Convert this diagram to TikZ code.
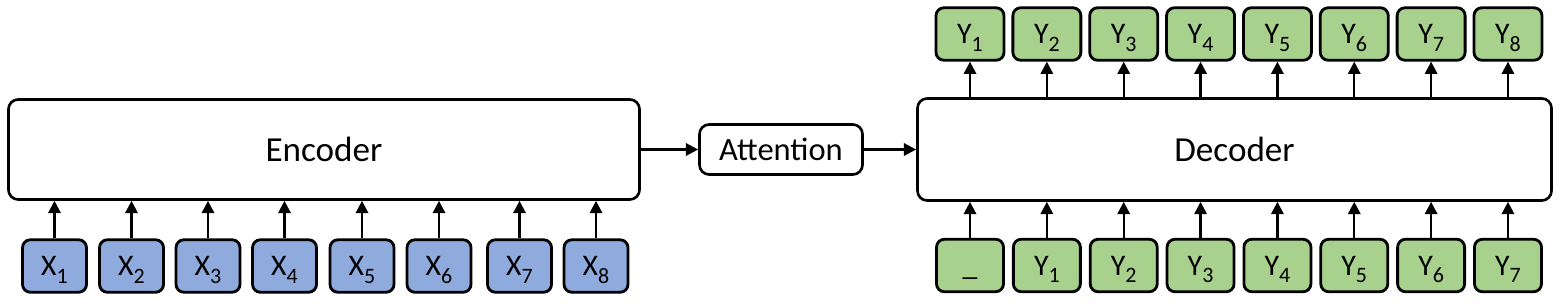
\documentclass[tikz,border=0pt]{standalone}
\usepackage{fontspec}
\setmainfont{Carlito}
\usetikzlibrary{arrows.meta,positioning}
\definecolor{inBlue}  {HTML}{8FAADC}
\definecolor{outGreen}{HTML}{A9D18E}
\newcommand{\lsub}[1]{\raisebox{-4.2pt}{\fontsize{12.5}{14}\selectfont #1}}

\begin{document}
\begin{tikzpicture}[
      blk/.style={draw,line width=1.5pt,rounded corners=5.5pt,fill=white,
                  font=\fontsize{20}{23}\selectfont},
      tok/.style={draw,line width=1.6pt,rounded corners=4.5pt,
                  minimum height=1.05cm,text height=11pt,text depth=0pt,
                  font=\fontsize{17}{20}\selectfont},
      link/.style={-{Triangle[length=7pt,width=7pt]},line width=1.35pt}]
    \useasboundingbox (0,0) rectangle (31.24,6.08);

    \node[blk,minimum width=12.62cm,minimum height=2.00cm] (enc) at (6.48,3.09) {Encoder};
    \node[blk,minimum width=3.26cm,minimum height=1.00cm,
          font=\fontsize{18.5}{21}\selectfont] (att) at (15.62,3.09) {Attention};
    \node[blk,minimum width=12.68cm,minimum height=2.04cm] (dec) at (24.69,3.09) {Decoder};

    % source tokens under the encoder
    \foreach \i/\x in {1/1.09,2/2.63,3/4.16,4/5.69,5/7.24,6/8.78,7/10.39,8/11.92}
      \node[tok,fill=inBlue,minimum width=1.28cm] (x\i) at (\x,0.76) {X\lsub{\i}};

    % shifted targets in, predicted targets out
    \node[tok,fill=outGreen,minimum width=1.34cm] (yi0) at (19.40,0.77) {\_};
    \foreach \i in {1,...,7}
      \node[tok,fill=outGreen,minimum width=1.34cm] (yi\i) at ({19.40+1.537*\i},0.77) {Y\lsub{\i}};
    \foreach \i in {1,...,8}
      \node[tok,fill=outGreen,minimum width=1.36cm] (yo\i) at ({19.40+1.537*(\i-1)},5.40) {Y\lsub{\i}};

    \foreach \i in {1,...,8}
      \draw[link] (x\i.north) -- (x\i.north |- enc.south);
    \foreach \i in {0,...,7}
      \draw[link] (yi\i.north) -- (yi\i.north |- dec.south);
    \foreach \i in {1,...,8}
      \draw[link] (yo\i.south |- dec.north) -- (yo\i.south);

    \draw[link] (enc) -- (att);
    \draw[link] (att) -- (dec);
  \end{tikzpicture}
\end{document}
